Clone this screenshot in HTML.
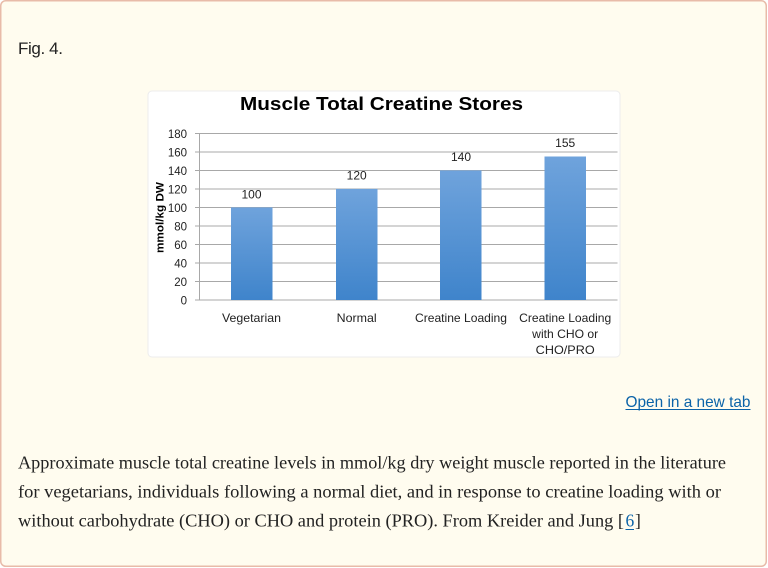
<!DOCTYPE html>
<html><head><meta charset="utf-8"><style>
html,body{margin:0;padding:0;background:#fff;}
svg{display:block;}
</style></head><body>
<svg width="768" height="568" viewBox="0 0 768 568" xmlns="http://www.w3.org/2000/svg">
<defs>
<linearGradient id="bg" x1="0" y1="0" x2="0" y2="1">
<stop offset="0" stop-color="#6fa3dc"/>
<stop offset="1" stop-color="#3f84cb"/>
</linearGradient>
</defs>
<rect x="0.75" y="0.75" width="765.5" height="565.5" rx="5" fill="#fffcef" stroke="#e8bba9" stroke-width="1.5"/>
<text x="18" y="54" font-family="Liberation Sans, sans-serif" font-size="17" fill="#222" textLength="45">Fig. 4.</text>

<rect x="148" y="91" width="472" height="266" rx="4" fill="#fff" stroke="#ececec" stroke-width="1"/>
<text x="381.5" y="110" text-anchor="middle" font-family="Liberation Sans, sans-serif" font-weight="bold" font-size="18.5" fill="#000" textLength="283" lengthAdjust="spacingAndGlyphs">Muscle Total Creatine Stores</text>

<g stroke="#a8a8a8" stroke-width="1">
<line x1="195" y1="133.5" x2="617.5" y2="133.5"/>
<line x1="195" y1="152" x2="617.5" y2="152"/>
<line x1="195" y1="170.5" x2="617.5" y2="170.5"/>
<line x1="195" y1="189" x2="617.5" y2="189"/>
<line x1="195" y1="207.5" x2="617.5" y2="207.5"/>
<line x1="195" y1="226" x2="617.5" y2="226"/>
<line x1="195" y1="244.5" x2="617.5" y2="244.5"/>
<line x1="195" y1="263" x2="617.5" y2="263"/>
<line x1="195" y1="281.5" x2="617.5" y2="281.5"/>
<line x1="195" y1="300" x2="617.5" y2="300"/>
<line x1="199.5" y1="133.5" x2="199.5" y2="300"/>
</g>

<rect x="231" y="207.4" width="41.5" height="92.6" fill="url(#bg)"/>
<rect x="336" y="188.9" width="41.5" height="111.1" fill="url(#bg)"/>
<rect x="440" y="170.4" width="41.5" height="129.6" fill="url(#bg)"/>
<rect x="544.5" y="156.5" width="41.5" height="143.5" fill="url(#bg)"/>

<g font-family="Liberation Sans, sans-serif" font-size="11.5" fill="#222" text-anchor="end">
<text x="187" y="138">180</text>
<text x="187" y="156.5">160</text>
<text x="187" y="175">140</text>
<text x="187" y="193.5">120</text>
<text x="187" y="212">100</text>
<text x="187" y="230.5">80</text>
<text x="187" y="249">60</text>
<text x="187" y="267.5">40</text>
<text x="187" y="286">20</text>
<text x="187" y="304.5">0</text>
</g>

<g font-family="Liberation Sans, sans-serif" font-size="12" fill="#222" text-anchor="middle">
<text x="251.5" y="198.5">100</text>
<text x="356.7" y="179.5">120</text>
<text x="461" y="161">140</text>
<text x="565.2" y="147">155</text>
<text x="251.5" y="322" textLength="59" lengthAdjust="spacingAndGlyphs">Vegetarian</text>
<text x="356.7" y="322" textLength="40" lengthAdjust="spacingAndGlyphs">Normal</text>
<text x="461" y="322" textLength="92" lengthAdjust="spacingAndGlyphs">Creatine Loading</text>
<text x="565.2" y="322" textLength="92" lengthAdjust="spacingAndGlyphs">Creatine Loading</text>
<text x="565.2" y="338" textLength="66" lengthAdjust="spacingAndGlyphs">with CHO or</text>
<text x="565.2" y="354" textLength="59" lengthAdjust="spacingAndGlyphs">CHO/PRO</text>
</g>

<text transform="translate(163.5,217.5) rotate(-90)" text-anchor="middle" font-family="Liberation Sans, sans-serif" font-weight="bold" font-size="11" fill="#000" textLength="71" lengthAdjust="spacingAndGlyphs">mmol/kg DW</text>

<text x="750.5" y="407" text-anchor="end" font-family="Liberation Sans, sans-serif" font-size="16" fill="#0b63a8" textLength="125" lengthAdjust="spacingAndGlyphs">Open in a new tab</text>
<line x1="625.5" y1="409.5" x2="750.5" y2="409.5" stroke="#0b63a8" stroke-width="1"/>

<g font-family="Liberation Serif, serif" font-size="17.5" fill="#222">
<text x="18" y="468.5" textLength="708" lengthAdjust="spacingAndGlyphs">Approximate muscle total creatine levels in mmol/kg dry weight muscle reported in the literature</text>
<text x="18" y="497.5" textLength="703" lengthAdjust="spacingAndGlyphs">for vegetarians, individuals following a normal diet, and in response to creatine loading with or</text>
<text x="18" y="526.5" textLength="606" lengthAdjust="spacingAndGlyphs">without carbohydrate (CHO) or CHO and protein (PRO). From Kreider and Jung [</text>
<text x="625.5" y="526.5" fill="#0b63a8">6</text>
<text x="635" y="526.5">]</text>
</g>
<line x1="625.5" y1="529.5" x2="634" y2="529.5" stroke="#0b63a8" stroke-width="1"/>
</svg>
</body></html>
